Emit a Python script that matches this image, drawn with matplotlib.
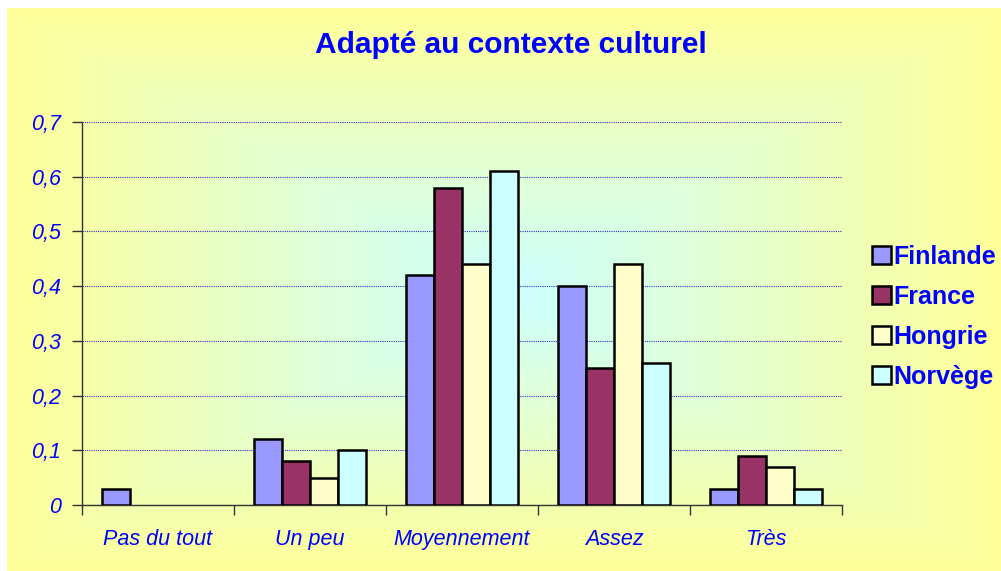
import numpy as np
import matplotlib.pyplot as plt
from matplotlib.patches import Patch

categories = ["Pas du tout", "Un peu", "Moyennement", "Assez", "Très"]
series = ["Finlande", "France", "Hongrie", "Norvège"]
finlande = [0.03, 0.12, 0.42, 0.40, 0.03]
france = [0.0, 0.08, 0.58, 0.25, 0.09]
hongrie = [0.0, 0.05, 0.44, 0.44, 0.07]
norvege = [0.0, 0.10, 0.61, 0.26, 0.03]
colors = ["#9999FF", "#993366", "#FFFFCC", "#CCFFFF"]
yticks = [0, 0.1, 0.2, 0.3, 0.4, 0.5, 0.6, 0.7]

plt.rcParams['font.family'] = ['Liberation Sans', 'DejaVu Sans']
blue = "#0000FF"

W, H = 1001, 571
fig = plt.figure(figsize=(W / 100, H / 100), dpi=100)
fig.patch.set_facecolor("white")

# background: rectangular gradient, cyan centre -> yellow edges
bg = fig.add_axes([7 / W, 0, 1 - 7 / W, 1 - 8 / H])
bg.set_axis_off()
nx, ny = 400, 230
xx, yy = np.meshgrid(np.linspace(-1, 1, nx), np.linspace(-1, 1, ny))
d = np.clip(np.maximum(np.abs(xx), np.abs(yy)), 0, 1)
c0 = np.array([204, 255, 255]) / 255
c1 = np.array([255, 255, 153]) / 255
img = c0[None, None, :] * (1 - d[..., None]) + c1[None, None, :] * d[..., None]
bg.imshow(img, aspect="auto", extent=[0, 1, 0, 1], interpolation="bilinear")
bg.set_xlim(0, 1)
bg.set_ylim(0, 1)

ax = fig.add_axes([82 / W, 1 - 505 / H, (842 - 82) / W, (505 - 122) / H])
ax.patch.set_alpha(0)

x = np.arange(len(categories))
width = 28 / 152
values = [finlande, france, hongrie, norvege]
for i, (name, vals) in enumerate(zip(series, values)):
    offs = (i - 1.5) * width
    bars = ax.bar(x + offs, vals, width, color=colors[i], edgecolor="black",
                  linewidth=1.8, label=name, zorder=3)
    # Excel draws nothing for empty values
    for b, v in zip(bars, vals):
        if v == 0:
            b.set_visible(False)

ax.set_xlim(-0.5, len(categories) - 0.5)
ax.set_ylim(0, 0.7)
ax.set_yticks(yticks)
ax.set_yticklabels([("%.1f" % v).replace(".", ",") if v else "0" for v in yticks],
                   color=blue, fontsize=15.5, style="italic")
ax.set_xticks(np.arange(len(categories) + 1) - 0.5, minor=True)
ax.set_xticks(x)
ax.set_xticklabels(categories, color=blue, fontsize=15.5, style="italic")
ax.tick_params(axis="x", which="major", length=0, pad=17)
ax.tick_params(axis="x", which="minor", length=7, width=1, color="#333333")
ax.tick_params(axis="y", length=7, width=1, color="#333333", pad=8)
ax.grid(axis="y", color="#3333CC", linestyle=(0, (1, 1)), linewidth=0.8, zorder=0)
for s in ["top", "right"]:
    ax.spines[s].set_visible(False)
for s in ["left", "bottom"]:
    ax.spines[s].set_color("#333333")
    ax.spines[s].set_linewidth(1)

fig.text(511 / W, 1 - 45 / H, "Adapté au contexte culturel", ha="center", va="center",
         color=blue, fontsize=21.5, fontweight="bold")

handles = [Patch(facecolor=c, edgecolor="black", linewidth=1.8) for c in colors]
leg = fig.legend(handles, series, loc="center left", bbox_to_anchor=(872 / W, 1 - 317 / H),
                 frameon=False, fontsize=18, handlelength=0.75, handleheight=0.75,
                 handletextpad=0.12, labelspacing=0.64, borderpad=0, borderaxespad=0)
for t in leg.get_texts():
    t.set_color(blue)
    t.set_fontweight("bold")

fig.savefig("out.png", dpi=100)
